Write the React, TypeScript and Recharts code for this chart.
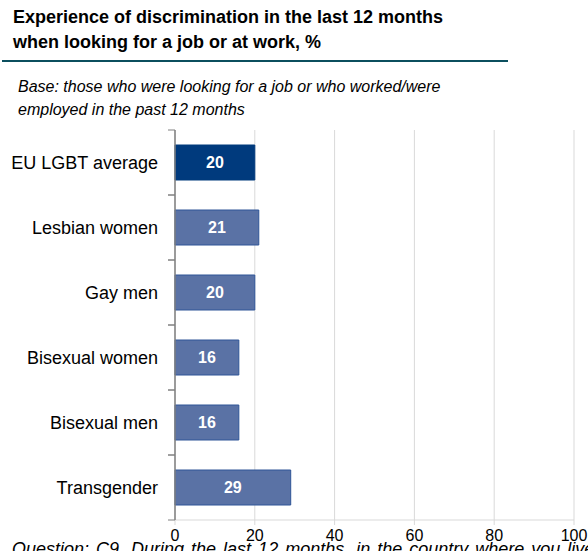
import { BarChart, Bar, XAxis, YAxis, CartesianGrid, Cell, LabelList } from 'recharts';

const categories = ['EU LGBT average', 'Lesbian women', 'Gay men', 'Bisexual women', 'Bisexual men', 'Transgender'];
const values = [20, 21, 20, 16, 16, 29];
const xTicks = [0, 20, 40, 60, 80, 100];

const data = categories.map((name, i) => ({ name, value: values[i] }));

const CHART_W = 588;
const CHART_H = 551;
const TOP = 130;
const AXIS_H = 31;
const bandHalf = (CHART_H - TOP - AXIS_H) / categories.length / 2;

const font = '"Liberation Sans", Arial, sans-serif';

function CategoryTick(props: any) {
  const { x, y, payload } = props;
  return (
    <g>
      <text x={x} y={y} textAnchor="end" dominantBaseline="central" fontSize={18} fill="#000" fontFamily={font}>
        {payload.value}
      </text>
      <line x1={x + 10} x2={x + 17} y1={y - bandHalf} y2={y - bandHalf} stroke="#808080" />
      <line x1={x + 10} x2={x + 17} y1={y + bandHalf} y2={y + bandHalf} stroke="#808080" />
    </g>
  );
}

export default function App() {
  return (
    <div style={{ position: 'absolute', left: 0, top: 0, width: CHART_W, height: CHART_H, overflow: 'hidden', fontFamily: font, background: '#fff' }}>
      <div style={{ position: 'absolute', left: 13, top: 5, fontSize: 18, fontWeight: 'bold', lineHeight: '25px', color: '#000' }}>
        Experience of discrimination in the last 12 months<br />when looking for a job or at work, %
      </div>
      <div style={{ position: 'absolute', left: 2, top: 60, width: 506, height: 2, background: '#0b4f5e' }} />
      <div style={{ position: 'absolute', left: 18, top: 75, fontSize: 16, fontStyle: 'italic', lineHeight: '23px', color: '#000' }}>
        Base: those who were looking for a job or who worked/were<br />employed in the past 12 months
      </div>
      <div style={{ position: 'absolute', left: 0, top: 0 }}>
        <BarChart
          width={CHART_W}
          height={CHART_H}
          data={data}
          layout="vertical"
          margin={{ top: TOP, right: 14, left: 0, bottom: 0 }}
          barSize={35}
        >
          <CartesianGrid horizontal={false} stroke="#d9d9d9" />
          <XAxis
            type="number"
            domain={[0, 100]}
            ticks={xTicks}
            height={AXIS_H}
            axisLine={{ stroke: '#d9d9d9' }}
            tickLine={{ stroke: '#d9d9d9' }}
            tickSize={5}
            tickMargin={5}
            tick={{ fontSize: 16, fill: '#000', fontFamily: font }}
            interval={0}
          />
          <YAxis
            type="category"
            dataKey="name"
            width={175}
            axisLine={{ stroke: '#808080', strokeWidth: 1.5 }}
            tickLine={false}
            tickSize={0}
            tickMargin={17}
            tick={<CategoryTick />}
            interval={0}
          />
          <Bar dataKey="value" isAnimationActive={false}>
            {data.map((d, i) => (
              <Cell key={d.name} fill={i === 0 ? '#003a7d' : '#5a72a5'} stroke={i === 0 ? '#003a7d' : '#2f5597'} />
            ))}
            <LabelList dataKey="value" position="center" fill="#fff" fontSize={16} fontWeight="bold" fontFamily={font} />
          </Bar>
        </BarChart>
      </div>
      <div style={{ position: 'absolute', left: 12, top: 539, fontSize: 18, fontStyle: 'italic', whiteSpace: 'nowrap', wordSpacing: 2, color: '#000' }}>
        Question: C9. During the last 12 months, in the country where you live, have you personally felt discriminated against
      </div>
    </div>
  );
}
